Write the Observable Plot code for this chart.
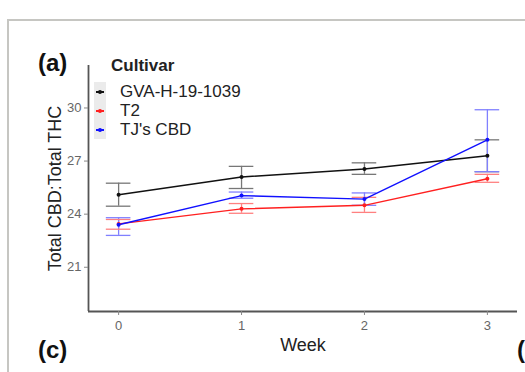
<!DOCTYPE html>
<html><head><meta charset="utf-8">
<script src="https://cdn.jsdelivr.net/npm/d3@7"></script>
<script src="https://cdn.jsdelivr.net/npm/@observablehq/plot@0.6"></script>
<style>
body{margin:0;background:#fff;font-family:"Liberation Sans",Arial,sans-serif;}
#wrap{position:relative;width:525px;height:372px;overflow:hidden;}
#frame{position:absolute;left:7px;top:19px;width:600px;height:400px;border-top:2px solid #c6c6c2;border-left:2px solid #c6c6c2;}
.lab{position:absolute;font-weight:bold;font-size:24px;color:#111;}
#legend{position:absolute;left:94px;top:56px;font-size:17px;color:#222;}
#legend .t{font-weight:bold;font-size:17px;margin-left:17px;margin-bottom:7px;line-height:19px;}
#legend .row{display:flex;align-items:center;height:19px;line-height:19px;}
#legend .key{width:12px;height:19px;background:#ebebeb;position:relative;margin-right:14px;}
#legend .key i{position:absolute;left:2px;top:9px;width:8px;height:2px;}
#legend .key b{position:absolute;left:4px;top:8px;width:4px;height:4px;border-radius:2px;}
#plot{position:absolute;left:0;top:0;}
</style></head>
<body><div id="wrap"><div id="frame"></div><div id="plot"></div>
<div class="lab" style="left:38px;top:49px">(a)</div>
<div class="lab" style="left:38px;top:336px">(c)</div>
<div class="lab" style="left:517px;top:336px">(</div>
<div id="legend"></div>
</div>
<script>
const weeks = [0, 1, 2, 3];
const cultivars = ["GVA-H-19-1039", "T2", "TJ's CBD"];
const colors = ["#111111", "#ff2020", "#1010ff"];
const barColors = ["#777777", "#ff8080", "#8080ff"];
const gvaMean = [25.1, 26.1, 26.55, 27.3];
const gvaLo   = [24.45, 25.45, 26.25, 26.4];
const gvaHi   = [25.75, 26.7, 26.9, 28.2];
const t2Mean  = [23.45, 24.3, 24.5, 26.0];
const t2Lo    = [23.15, 24.05, 24.1, 25.8];
const t2Hi    = [23.7, 24.6, 24.95, 26.25];
const tjMean  = [23.4, 25.05, 24.85, 28.2];
const tjLo    = [22.8, 24.9, 24.5, 26.4];
const tjHi    = [23.8, 25.25, 25.2, 29.9];
const yTicks = [21, 24, 27, 30];
const xTicks = [0, 1, 2, 3];
const xDomain = [-0.245, 3.245];
const yDomain = [18.5, 32.4];

const series = [[gvaMean, gvaLo, gvaHi], [t2Mean, t2Lo, t2Hi], [tjMean, tjLo, tjHi]];
const data = [];
series.forEach((s, i) => weeks.forEach((w, j) => data.push({week: w, cultivar: cultivars[i], mean: s[0][j], lo: s[1][j], hi: s[2][j]})));
const capHalf = 0.1;
const colorScale = {domain: cultivars, range: colors};
const barScale = d => barColors[cultivars.indexOf(d.cultivar)];

const chart = Plot.plot({
  width: 525, height: 372,
  marginLeft: 88, marginRight: 8, marginTop: 65, marginBottom: 61,
  style: {fontFamily: '"Liberation Sans", Arial, sans-serif', background: "transparent"},
  x: {domain: xDomain, ticks: xTicks, label: null},
  y: {domain: yDomain, ticks: yTicks, label: null},
  color: colorScale,
  marks: [
    Plot.ruleX(data, {x: "week", y1: "lo", y2: "hi", stroke: barScale, strokeWidth: 1.3}),
    Plot.ruleY(data, {y: "lo", x1: d => d.week - capHalf, x2: d => d.week + capHalf, stroke: barScale, strokeWidth: 1.3}),
    Plot.ruleY(data, {y: "hi", x1: d => d.week - capHalf, x2: d => d.week + capHalf, stroke: barScale, strokeWidth: 1.3}),
    Plot.line(data, {x: "week", y: "mean", z: "cultivar", stroke: "cultivar", strokeWidth: 1.4}),
    Plot.dot(data, {x: "week", y: "mean", fill: "cultivar", r: 2}),
    Plot.ruleX([xDomain[0]], {stroke: "#555", strokeWidth: 1.8}),
    Plot.ruleY([yDomain[0]], {stroke: "#555", strokeWidth: 1.8}),
    Plot.axisX({ticks: xTicks, tickFormat: "d", tickSize: 4, tickPadding: 5, fontSize: 13, color: "#666", stroke: "#888", label: null}),
    Plot.axisY({ticks: yTicks, tickFormat: "d", tickSize: 4, tickPadding: 3, fontSize: 13, color: "#666", stroke: "#888", label: null}),
    Plot.text(["Week"], {frameAnchor: "bottom", dy: 39, fontSize: 18, fill: "#222"}),
    Plot.text(["Total CBD:Total THC"], {frameAnchor: "left", textAnchor: "middle", dx: -33, dy: 0, rotate: -90, fontSize: 18, fill: "#222"})
  ]
});
document.getElementById("plot").appendChild(chart);

const lg = document.getElementById("legend");
lg.innerHTML = '<div class="t">Cultivar</div>' + cultivars.map((c, i) =>
  `<div class="row"><div class="key"><i style="background:${colors[i]}"></i><b style="background:${colors[i]}"></b></div><span>${c}</span></div>`).join("");
</script></body></html>
